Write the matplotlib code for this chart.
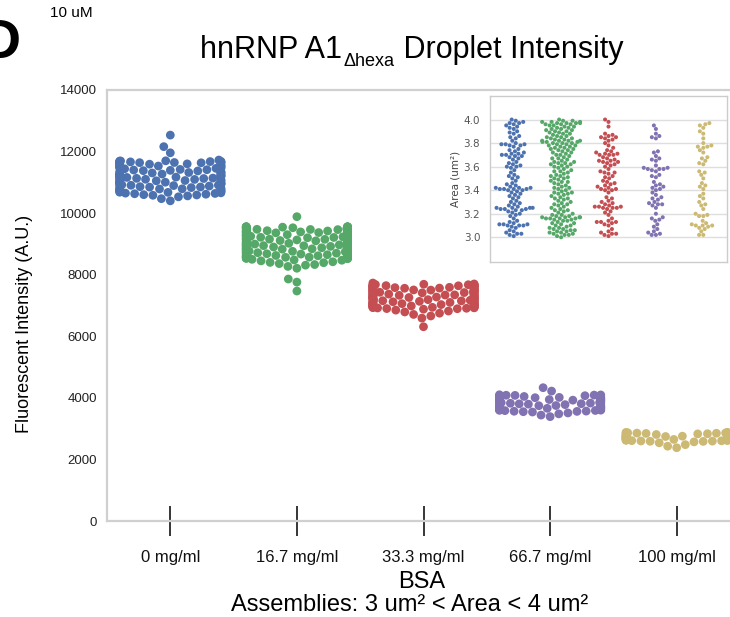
import numpy as np
import pandas as pd
import seaborn as sns
import matplotlib.pyplot as plt
import warnings

warnings.filterwarnings("ignore")
plt.rcParams['font.family'] = ['Liberation Sans', 'DejaVu Sans']

# categories and colours
conc_labels = ["0 mg/ml", "16.7 mg/ml", "33.3 mg/ml", "66.7 mg/ml", "100 mg/ml"]
colors = ["#4C72B0", "#55A868", "#C44E52", "#8172B2", "#CCB974"]

# droplet intensity (A.U.)
int_0 = [10400, 10470, 10530, 10560, 10580, 10590, 10600, 10615, 10630, 10640,
         10650, 10660, 10675, 10680, 10700, 10715, 10720, 10730, 10740, 10765,
         10770, 10785, 10790, 10800, 10810, 10830, 10845, 10850, 10860, 10870,
         10880, 10895, 10905, 10910, 10920, 10930, 10945, 10950, 10960, 10975,
         10990, 11000, 11005, 11015, 11020, 11035, 11050, 11060, 11070, 11080,
         11095, 11100, 11110, 11125, 11130, 11140, 11145, 11160, 11170, 11190,
         11200, 11205, 11215, 11220, 11235, 11250, 11260, 11270, 11280, 11290,
         11305, 11310, 11320, 11330, 11345, 11350, 11370, 11380, 11390, 11400,
         11410, 11420, 11440, 11455, 11460, 11470, 11480, 11500, 11515, 11520,
         11530, 11540, 11555, 11570, 11580, 11590, 11600, 11610, 11625, 11635,
         11640, 11645, 11650, 11655, 11660, 11665, 11670, 11675, 11680, 11690,
         11695, 11700, 11725, 11960, 12160, 12535]
int_16 = [7470, 7760, 7860, 8210, 8270, 8310, 8330, 8360, 8390, 8400,
          8420, 8450, 8470, 8480, 8500, 8520, 8530, 8535, 8540, 8545,
          8550, 8560, 8565, 8570, 8575, 8580, 8585, 8590, 8595, 8600,
          8610, 8615, 8620, 8625, 8630, 8640, 8650, 8655, 8660, 8670,
          8680, 8685, 8690, 8700, 8710, 8715, 8720, 8725, 8730, 8735,
          8740, 8745, 8750, 8760, 8770, 8780, 8790, 8795, 8800, 8805,
          8810, 8815, 8820, 8830, 8840, 8845, 8850, 8855, 8860, 8865,
          8870, 8875, 8880, 8885, 8890, 8900, 8910, 8915, 8920, 8930,
          8935, 8940, 8945, 8950, 8955, 8960, 8970, 8975, 8980, 8990,
          8995, 9000, 9010, 9020, 9025, 9030, 9040, 9045, 9050, 9055,
          9060, 9065, 9070, 9075, 9080, 9090, 9100, 9110, 9115, 9120,
          9130, 9135, 9140, 9150, 9155, 9160, 9165, 9170, 9175, 9180,
          9190, 9200, 9210, 9215, 9220, 9225, 9230, 9240, 9250, 9255,
          9260, 9270, 9275, 9280, 9285, 9290, 9295, 9300, 9310, 9320,
          9325, 9330, 9340, 9345, 9350, 9360, 9365, 9370, 9380, 9385,
          9390, 9395, 9400, 9405, 9410, 9420, 9430, 9440, 9445, 9450,
          9460, 9465, 9470, 9475, 9480, 9490, 9495, 9500, 9510, 9515,
          9520, 9525, 9530, 9535, 9540, 9545, 9548, 9550, 9552, 9555,
          9558, 9560, 9560, 9885]
int_33 = [6310, 6590, 6660, 6710, 6750, 6790, 6820, 6850, 6880, 6895,
          6900, 6910, 6920, 6925, 6930, 6935, 6940, 6950, 6960, 6965,
          6970, 6985, 6990, 7000, 7005, 7010, 7015, 7020, 7030, 7035,
          7045, 7050, 7060, 7065, 7070, 7080, 7090, 7100, 7105, 7110,
          7120, 7125, 7135, 7140, 7150, 7155, 7160, 7170, 7175, 7185,
          7190, 7200, 7210, 7220, 7230, 7235, 7240, 7245, 7250, 7260,
          7270, 7275, 7280, 7290, 7300, 7305, 7315, 7320, 7330, 7340,
          7345, 7350, 7360, 7370, 7375, 7385, 7390, 7400, 7410, 7420,
          7430, 7435, 7440, 7445, 7455, 7460, 7470, 7480, 7490, 7500,
          7505, 7510, 7520, 7525, 7530, 7545, 7550, 7560, 7565, 7570,
          7580, 7590, 7595, 7600, 7610, 7620, 7625, 7630, 7640, 7645,
          7650, 7655, 7660, 7665, 7670, 7675, 7680, 7690, 7700, 7730]
int_66 = [3390, 3440, 3480, 3510, 3540, 3550, 3560, 3565, 3570, 3585,
          3590, 3595, 3600, 3615, 3625, 3630, 3640, 3655, 3660, 3675,
          3685, 3690, 3700, 3705, 3715, 3720, 3735, 3745, 3750, 3765,
          3770, 3780, 3795, 3805, 3810, 3815, 3825, 3830, 3845, 3850,
          3865, 3870, 3880, 3895, 3905, 3910, 3915, 3925, 3935, 3945,
          3955, 3965, 3975, 3985, 3990, 3995, 4005, 4015, 4030, 4040,
          4045, 4060, 4070, 4080, 4085, 4090, 4095, 4100, 4220, 4330]
int_100 = [2380, 2430, 2480, 2540, 2570, 2585, 2590, 2595, 2600, 2605,
           2610, 2615, 2620, 2625, 2635, 2645, 2650, 2660, 2665, 2670,
           2675, 2685, 2690, 2700, 2705, 2710, 2715, 2725, 2730, 2740,
           2745, 2755, 2760, 2765, 2775, 2780, 2790, 2795, 2805, 2810,
           2815, 2820, 2830, 2835, 2845, 2850, 2855, 2860, 2865, 2868,
           2870, 2875, 2880]

# droplet area (um^2), inset
area_0 = [3.01, 3.02, 3.03, 3.03, 3.04, 3.05, 3.06, 3.08, 3.09, 3.10,
          3.10, 3.10, 3.11, 3.11, 3.12, 3.13, 3.14, 3.16, 3.18, 3.19,
          3.20, 3.21, 3.22, 3.23, 3.23, 3.24, 3.24, 3.24, 3.25, 3.25,
          3.25, 3.26, 3.27, 3.28, 3.29, 3.30, 3.31, 3.33, 3.34, 3.35,
          3.36, 3.37, 3.38, 3.39, 3.40, 3.40, 3.41, 3.41, 3.41, 3.41,
          3.42, 3.42, 3.43, 3.44, 3.45, 3.46, 3.48, 3.50, 3.51, 3.52,
          3.53, 3.55, 3.57, 3.59, 3.60, 3.60, 3.61, 3.62, 3.63, 3.64,
          3.66, 3.67, 3.68, 3.69, 3.69, 3.70, 3.70, 3.71, 3.72, 3.73,
          3.74, 3.75, 3.77, 3.78, 3.78, 3.79, 3.79, 3.79, 3.80, 3.82,
          3.84, 3.85, 3.86, 3.88, 3.89, 3.90, 3.92, 3.93, 3.94, 3.95,
          3.96, 3.97, 3.97, 3.98, 3.99, 4.00, 3.42, 3.25, 3.11, 3.71]
area_16 = [3.00, 3.01, 3.02, 3.02, 3.03, 3.03, 3.04, 3.04, 3.05, 3.05,
           3.06, 3.06, 3.07, 3.07, 3.08, 3.08, 3.09, 3.10, 3.10, 3.11,
           3.12, 3.12, 3.13, 3.14, 3.14, 3.15, 3.15, 3.16, 3.16, 3.16,
           3.17, 3.17, 3.17, 3.18, 3.18, 3.19, 3.19, 3.20, 3.21, 3.22,
           3.23, 3.23, 3.24, 3.25, 3.26, 3.27, 3.28, 3.28, 3.29, 3.30,
           3.31, 3.32, 3.33, 3.33, 3.34, 3.35, 3.36, 3.37, 3.37, 3.38,
           3.39, 3.40, 3.41, 3.42, 3.42, 3.43, 3.44, 3.45, 3.46, 3.47,
           3.47, 3.48, 3.49, 3.50, 3.50, 3.51, 3.52, 3.52, 3.53, 3.54,
           3.55, 3.56, 3.56, 3.57, 3.58, 3.59, 3.60, 3.60, 3.61, 3.62,
           3.63, 3.63, 3.64, 3.64, 3.65, 3.66, 3.67, 3.67, 3.68, 3.69,
           3.70, 3.70, 3.71, 3.72, 3.72, 3.73, 3.74, 3.74, 3.75, 3.75,
           3.76, 3.76, 3.77, 3.77, 3.78, 3.78, 3.79, 3.79, 3.80, 3.80,
           3.80, 3.81, 3.81, 3.82, 3.82, 3.82, 3.83, 3.83, 3.84, 3.84,
           3.85, 3.85, 3.86, 3.86, 3.87, 3.88, 3.88, 3.89, 3.89, 3.90,
           3.90, 3.91, 3.91, 3.92, 3.92, 3.93, 3.93, 3.94, 3.94, 3.95,
           3.95, 3.96, 3.96, 3.97, 3.97, 3.97, 3.98, 3.98, 3.98, 3.99,
           3.99, 4.00, 3.82, 3.81, 3.16, 3.17, 3.96, 3.97, 3.62, 3.38]
area_33 = [3.01, 3.02, 3.03, 3.03, 3.04, 3.05, 3.07, 3.10, 3.11, 3.12,
           3.13, 3.13, 3.14, 3.16, 3.19, 3.21, 3.22, 3.24, 3.25, 3.25,
           3.26, 3.26, 3.27, 3.28, 3.29, 3.30, 3.31, 3.33, 3.34, 3.38,
           3.40, 3.40, 3.41, 3.42, 3.43, 3.44, 3.45, 3.46, 3.47, 3.48,
           3.50, 3.51, 3.52, 3.54, 3.55, 3.55, 3.56, 3.58, 3.60, 3.61,
           3.62, 3.63, 3.64, 3.64, 3.65, 3.66, 3.67, 3.68, 3.70, 3.70,
           3.71, 3.71, 3.72, 3.73, 3.74, 3.76, 3.78, 3.80, 3.82, 3.83,
           3.84, 3.85, 3.85, 3.86, 3.87, 3.88, 3.94, 3.98, 4.00, 3.25,
           3.26, 3.70, 3.65, 3.41, 3.13]
area_66 = [3.02, 3.02, 3.03, 3.05, 3.07, 3.09, 3.11, 3.14, 3.15, 3.16,
           3.17, 3.20, 3.25, 3.27, 3.28, 3.28, 3.30, 3.32, 3.33, 3.34,
           3.36, 3.38, 3.40, 3.41, 3.42, 3.43, 3.45, 3.47, 3.51, 3.52,
           3.53, 3.56, 3.57, 3.58, 3.58, 3.59, 3.59, 3.61, 3.65, 3.66,
           3.67, 3.69, 3.72, 3.73, 3.84, 3.85, 3.86, 3.88, 3.92, 3.95,
           3.58, 3.29, 3.04, 3.44]
area_100 = [3.02, 3.02, 3.05, 3.07, 3.08, 3.09, 3.10, 3.10, 3.11, 3.12,
            3.14, 3.18, 3.18, 3.19, 3.20, 3.24, 3.27, 3.28, 3.30, 3.33,
            3.35, 3.37, 3.41, 3.43, 3.44, 3.46, 3.50, 3.53, 3.55, 3.56,
            3.62, 3.63, 3.65, 3.67, 3.68, 3.72, 3.74, 3.76, 3.77, 3.77,
            3.78, 3.80, 3.84, 3.88, 3.90, 3.93, 3.95, 3.96, 3.97, 3.10]

int_groups = [int_0, int_16, int_33, int_66, int_100]
area_groups = [area_0, area_16, area_33, area_66, area_100]

df_int = pd.DataFrame({
    "conc": np.repeat(conc_labels, [len(g) for g in int_groups]),
    "value": np.concatenate(int_groups),
})
df_area = pd.DataFrame({
    "conc": np.repeat(conc_labels, [len(g) for g in area_groups]),
    "value": np.concatenate(area_groups),
})

fig = plt.figure(figsize=(7.3, 6.17), dpi=100)

# main axes (runs a little past the right edge, like the cropped original)
ax = fig.add_axes([107/730, 96/617, 633/730, 431/617])
sns.swarmplot(data=df_int, x="conc", y="value", hue="conc", order=conc_labels,
              hue_order=conc_labels, palette=colors, size=6.3, linewidth=0,
              legend=False, ax=ax)
ax.set_xlim(-0.5, 4.5)
ax.set_ylim(0, 14000)
ax.set_yticks(range(0, 14001, 2000))
ax.set_xlabel("")
ax.set_ylabel("")
ax.grid(False)
for s in ["left", "top", "bottom"]:
    ax.spines[s].set_color("#d0d0d0")
    ax.spines[s].set_linewidth(1.6)
ax.spines["right"].set_visible(False)
ax.tick_params(axis="y", length=0, labelsize=9.5, pad=7, labelcolor="#222222")
ax.tick_params(axis="x", direction="inout", length=22, width=1.1, color="black",
               labelsize=12, pad=10, labelcolor="#111111")

# inset: droplet area
axi = fig.add_axes([490/730, 355/617, 237/730, 166/617])
sns.swarmplot(data=df_area, x="conc", y="value", hue="conc", order=conc_labels,
              hue_order=conc_labels, palette=colors, size=2.9, linewidth=0,
              legend=False, ax=axi)
axi.set_xlim(-0.5, 4.5)
axi.set_ylim(2.79, 4.2)
axi.set_yticks([3.0, 3.2, 3.4, 3.6, 3.8, 4.0])
axi.set_yticklabels(["3.0", "3.2", "3.4", "3.6", "3.8", "4.0"],
                    family="DejaVu Sans", fontsize=7.5, color="#555555")
axi.set_xticks([])
axi.set_xlabel("")
axi.set_ylabel("Area (um²)", family="DejaVu Sans", fontsize=7.5, color="#444444",
               labelpad=2)
axi.grid(axis="y", color="#dedede", linewidth=1)
axi.grid(axis="x", visible=False)
axi.set_axisbelow(True)
axi.tick_params(axis="y", length=0, pad=7)
for s in axi.spines.values():
    s.set_color("#cccccc")
    s.set_linewidth(1)

# title with lowered subscript, built from three pieces
rend = fig.canvas.get_renderer()
yb = 1 - 58/617
t1 = fig.text(0, yb, "hnRNP A1", fontsize=22, va="baseline")
t2 = fig.text(0, yb - 8/617, "Δhexa", fontsize=13, va="baseline")
t3 = fig.text(0, yb, " Droplet Intensity", fontsize=22, va="baseline")
widths = [t.get_window_extent(rend).width for t in (t1, t2, t3)]
x0 = 411 - sum(widths) / 2
for t, w in zip((t1, t2, t3), widths):
    t.set_x(x0 / 730)
    x0 += w + 1

fig.text(50/730, 1 - 17/617, "10 uM", fontsize=11, va="baseline")
fig.text(20/730, 1 - 58/617, "D", fontsize=40, fontweight="bold",
         ha="right", va="baseline")
fig.text(25/730, 293/617, "Fluorescent Intensity (A.U.)", rotation=90,
         ha="center", va="center", fontsize=13)
fig.text(422/730, 29/617, "BSA", ha="center", va="baseline", fontsize=17)
fig.text(410/730, 6/617, "Assemblies: 3 um² < Area < 4 um²", ha="center",
         va="baseline", fontsize=17)

fig.savefig("out.png", dpi=100)
